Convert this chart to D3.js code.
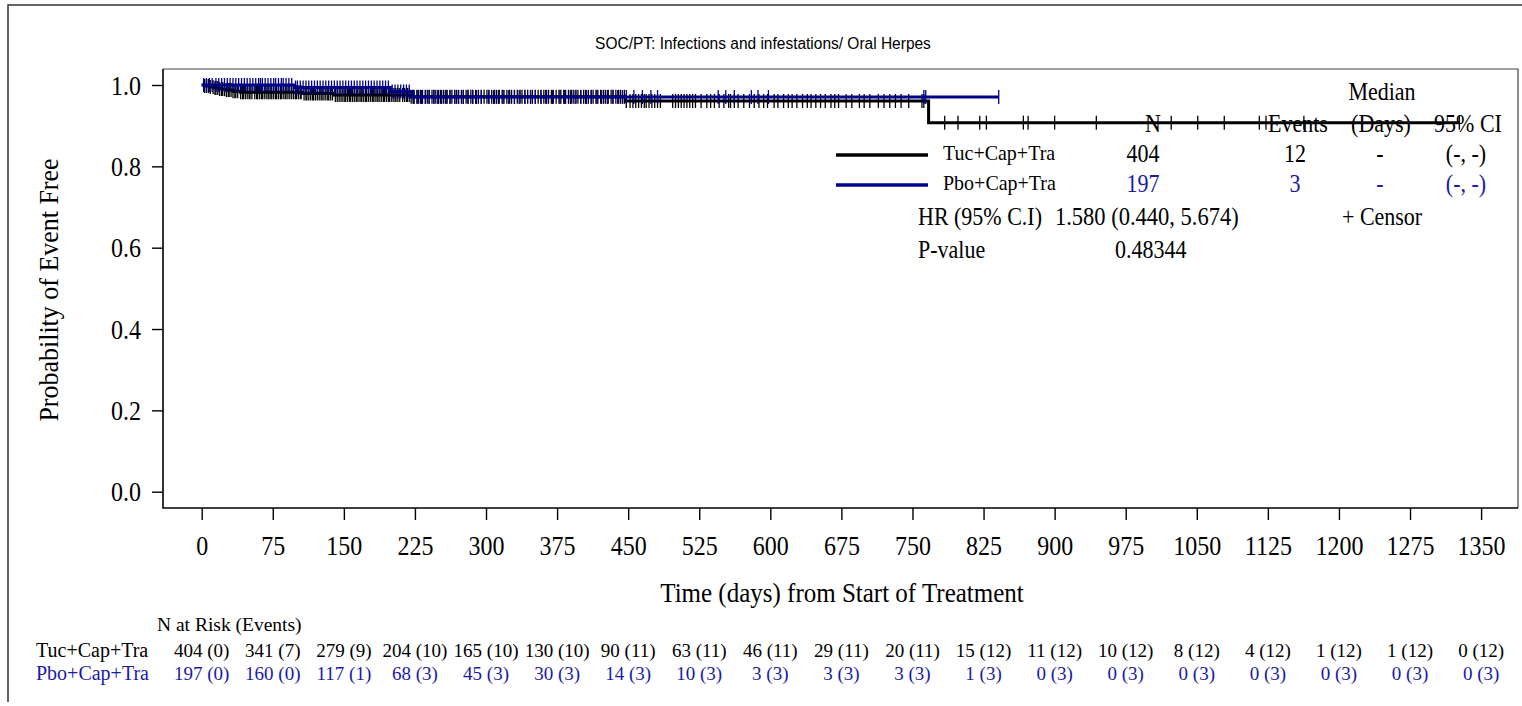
<!DOCTYPE html>
<html><head><meta charset="utf-8">
<script src="https://cdn.jsdelivr.net/npm/d3@7"></script>
<style>body{margin:0;background:#fff}svg{display:block}</style>
</head><body>
<svg id="c" width="1522" height="706"></svg>
<script>
// ---------------- data ----------------
const title = "SOC/PT: Infections and infestations/ Oral Herpes";
const xTicks = [0,75,150,225,300,375,450,525,600,675,750,825,900,975,1050,1125,1200,1275,1350];
const yTicks = [0,0.2,0.4,0.6,0.8,1.0];
const groups = ["Tuc+Cap+Tra","Pbo+Cap+Tra"];

// Kaplan-Meier step values
const tucStepTimes = [0,3,8,14,19,25,33,41,106,140,220,447,767];
const tucStepSurv  = [1,0.9975,0.9950,0.9925,0.9900,0.9874,0.9848,0.9821,0.9790,0.9756,0.9710,0.9608,0.9074];
const tucEnd = 1327;
const pboStepTimes = [0,98,199,222];
const pboStepSurv  = [1,0.9939,0.9840,0.9703];
const pboEnd = 841;

// censor times (days)
const tucCensor = [3,5,7,9,12,14,15,17,19,21,22,24,26,28,29,31,33,35,36,38,41,43,44,46,48,50,51,53,56,58,59,61,63,64,66,68,70,71,73,74,
 76,78,79,81,83,84,86,88,89,91,93,95,97,99,100,102,104,105,108,110,111,113,115,117,118,120,122,124,126,127,129,131,133,134,136,138,141,143,145,147,149,
 151,152,154,156,157,159,161,163,164,166,168,169,171,173,174,176,178,180,181,183,185,186,188,190,192,193,195,197,198,200,202,204,205,207,209,212,214,216,217,219,221,223,224,
 227,229,231,233,236,238,240,243,245,247,250,252,255,257,259,262,264,267,269,271,274,276,279,281,284,286,289,292,295,298,
 301,303,306,309,311,314,317,319,322,325,327,330,333,336,338,341,344,347,349,352,355,358,361,363,366,369,371,374,
 377,379,382,384,387,390,392,395,397,400,403,405,408,411,413,416,418,421,424,426,429,432,434,437,440,442,446,448,
 452,455,458,461,464,467,469,472,475,478,481,484,497,500,503,506,509,512,515,518,521,
 527,533,537,541,546,551,556,558,562,566,572,578,583,588,593,597,
 604,608,614,619,623,628,634,639,643,648,653,658,664,668,672,
 680,686,694,699,705,714,720,726,732,738,746,760,762,
 784,798,821,828,867,872,900,944,1023,1051,1079,1116,1123,1163,1327];
const pboCensor = [2,5,8,11,15,18,21,24,27,30,33,36,39,42,45,48,51,54,57,60,62,64,67,70,73,
 76,78,81,84,86,89,92,95,99,101,104,107,110,113,116,119,122,125,128,131,134,137,140,143,146,149,
 152,155,158,161,164,167,170,173,176,179,182,185,188,191,194,197,201,204,207,210,213,216,219,224,
 228,232,236,240,245,249,253,258,262,267,271,276,281,286,290,295,
 303,308,313,318,324,330,335,341,347,352,358,364,370,
 378,383,389,394,400,406,411,417,422,428,434,439,444,448,
 456,465,474,481,545,553,562,580,587,598,762,764,841];

// numbers at risk (events) at each x tick
const tucRisk = ["404 (0)","341 (7)","279 (9)","204 (10)","165 (10)","130 (10)","90 (11)","63 (11)","46 (11)","29 (11)","20 (11)","15 (12)","11 (12)","10 (12)","8 (12)","4 (12)","1 (12)","1 (12)","0 (12)"];
const pboRisk = ["197 (0)","160 (0)","117 (1)","68 (3)","45 (3)","30 (3)","14 (3)","10 (3)","3 (3)","3 (3)","3 (3)","1 (3)","0 (3)","0 (3)","0 (3)","0 (3)","0 (3)","0 (3)","0 (3)"];

// legend statistics
const legendN = ["404","197"];
const legendEvents = ["12","3"];
const legendMedian = ["-","-"];
const legendCI = ["(-, -)","(-, -)"];
const hrText = "1.580 (0.440, 5.674)";
const pText = "0.48344";

// ---------------- drawing ----------------
const BLACK = "#000000", BLUE_LINE = "#00008a", BLUE_TXT = "#1a1aa6";
const SERIF = "'Liberation Serif','Times New Roman',Times,serif";
const SANS = "'Liberation Sans',Arial,Helvetica,sans-serif";
const svg = d3.select("#c");

const L = 163, R = 1518, T = 69, B = 508;
const x = d3.scaleLinear().domain([0,1350]).range([201.7,1481.1]);
const y = d3.scaleLinear().domain([0,1]).range([491.7,85]);

// text helper: place text at (px,py) with a slight vertical stretch
function txt(parent, px, py, str, opts={}){
  const k = opts.k || 1.1;
  const t = parent.append("text").attr("x",0).attr("y",0)
    .attr("transform",`translate(${px},${py}) scale(1,${k})`).text(str);
  if(opts.anchor) t.attr("text-anchor",opts.anchor);
  if(opts.size) t.attr("font-size",opts.size);
  if(opts.fill) t.attr("fill",opts.fill);
  if(opts.family) t.attr("font-family",opts.family);
  return t;
}

// outer frame (partially visible)
svg.append("path").attr("d", `M8,702 L8,5 L1522,5`).attr("fill","none").attr("stroke","#333").attr("stroke-width",1.5);

// title
txt(svg, 763, 49, title, {anchor:"middle", family:SANS, size:15.5, k:1.1});

// plot frame
svg.append("path").attr("d",`M${L},${T} L${R},${T} L${R},${B}`).attr("fill","none").attr("stroke","#444").attr("stroke-width",1.2);
svg.append("path").attr("d",`M${L},${T} L${L},${B} L${R},${B}`).attr("fill","none").attr("stroke","#000").attr("stroke-width",1.6);

// axes
const gy = svg.append("g").attr("transform",`translate(${L},0)`)
  .call(d3.axisLeft(y).tickValues(yTicks).tickSize(11).tickPadding(12).tickFormat(d3.format(".1f")));
const gx = svg.append("g").attr("transform",`translate(0,${B})`)
  .call(d3.axisBottom(x).tickValues(xTicks).tickSize(12).tickPadding(17).tickFormat(d3.format("d")));
[gx,gy].forEach(g=>{
  g.select(".domain").remove();
  g.selectAll(".tick line").attr("stroke","#000").attr("stroke-width",1.4);
  g.selectAll(".tick text").attr("font-family",SERIF).attr("font-size",24).attr("fill","#000")
    .attr("x",null).attr("y",null).attr("dy",null);
});
gx.selectAll(".tick text").attr("transform","translate(0,47) scale(1,1.12)");
gy.selectAll(".tick text").attr("transform","translate(-22,9) scale(1,1.12)");

// axis titles
svg.append("text").attr("transform","translate(58,290) rotate(-90) scale(1.06,1.08)").attr("text-anchor","middle")
  .attr("font-family",SERIF).attr("font-size",24.5).text("Probability of Event Free");
txt(svg, 842, 602, "Time (days) from Start of Treatment", {anchor:"middle", family:SERIF, size:25, k:1.06});

// KM curves
function stepPath(times, surv, end){
  const pts = times.map((t,i)=>[t,surv[i]]);
  pts.push([end, surv[surv.length-1]]);
  return d3.line().x(d=>x(d[0])).y(d=>y(d[1])).curve(d3.curveStepAfter)(pts);
}
function survAt(times, surv, t){
  const i = d3.bisectRight(times, t) - 1;
  return surv[Math.max(0,i)];
}
function drawSeries(times, surv, end, censor, color){
  const g = svg.append("g");
  g.append("path").attr("d", stepPath(times,surv,end)).attr("fill","none")
    .attr("stroke",color).attr("stroke-width",3);
  g.selectAll("line.c").data(censor).join("line")
    .attr("x1",d=>x(d)).attr("x2",d=>x(d))
    .attr("y1",d=>y(survAt(times,surv,d))-7).attr("y2",d=>y(survAt(times,surv,d))+7)
    .attr("stroke",color).attr("stroke-width",1.3);
}
drawSeries(tucStepTimes, tucStepSurv, tucEnd, tucCensor, BLACK);
drawSeries(pboStepTimes, pboStepSurv, pboEnd, pboCensor, BLUE_LINE);

// legend
const lg = svg.append("g").attr("font-family",SERIF).attr("font-size",22);
txt(lg, 1382, 100, "Median", {anchor:"middle"});
txt(lg, 1153, 132, "N", {anchor:"middle"});
txt(lg, 1298, 132, "Events", {anchor:"middle"});
txt(lg, 1381, 132, "(Days)", {anchor:"middle"});
txt(lg, 1468, 132, "95% CI", {anchor:"middle"});
const rowsY = [162,192];
const colors = [BLACK, BLUE_TXT];
const lineColors = [BLACK, BLUE_LINE];
groups.forEach((gname,i)=>{
  lg.append("line").attr("x1",836).attr("x2",928).attr("y1",rowsY[i]-7).attr("y2",rowsY[i]-7)
    .attr("stroke",lineColors[i]).attr("stroke-width",3.5);
  txt(lg, 943, rowsY[i]-2, gname, {size:20});
  txt(lg, 1143, rowsY[i], legendN[i], {anchor:"middle", fill:colors[i]});
  txt(lg, 1295, rowsY[i], legendEvents[i], {anchor:"middle", fill:colors[i]});
  txt(lg, 1380, rowsY[i], legendMedian[i], {anchor:"middle", fill:colors[i]});
  txt(lg, 1466, rowsY[i], legendCI[i], {anchor:"middle", fill:colors[i]});
});
txt(lg, 918, 225, "HR (95% C.I)");
txt(lg, 1055, 225, hrText, {size:22.5});
txt(lg, 1342, 225, "+ Censor");
txt(lg, 918, 258, "P-value");
txt(lg, 1115, 258, pText);

// risk table
const rt = svg.append("g").attr("font-family",SERIF).attr("font-size",19);
txt(rt, 157, 631, "N at Risk (Events)", {size:19.5, k:1.0});
const riskRows = [tucRisk, pboRisk];
const riskY = [657,680];
riskRows.forEach((row,i)=>{
  txt(rt, 36, riskY[i], groups[i], {fill:colors[i], size:20, k:1.0});
  row.forEach((d,j)=>{
    txt(rt, x(xTicks[j]), riskY[i], d, {anchor:"middle", fill:colors[i], k:1.0});
  });
});
</script></body></html>
